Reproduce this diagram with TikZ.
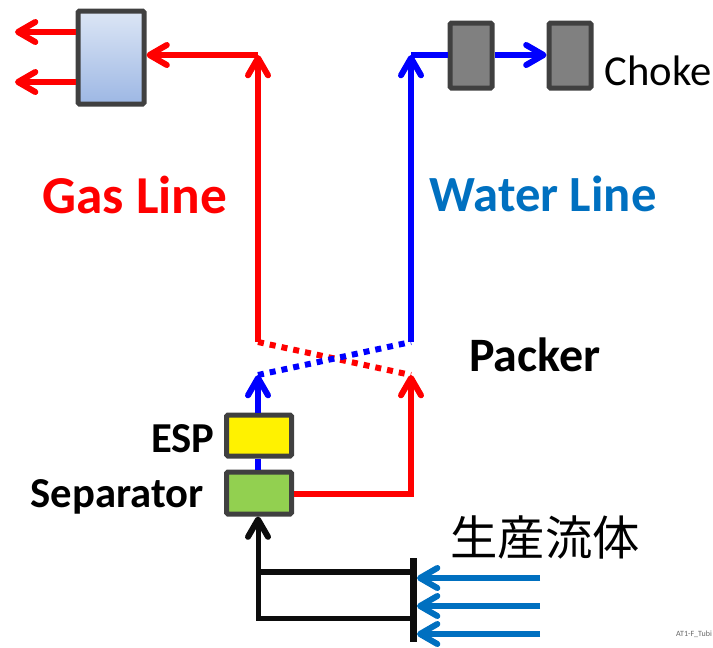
\documentclass[tikz,border=0pt]{standalone}
\usepackage{fontspec}
\setmainfont{Carlito}
\newfontfamily\cjkfont{Noto Sans CJK JP}
\usetikzlibrary{arrows.meta}
\definecolor{gasred}{RGB}{255,0,0}
\definecolor{waterblue}{RGB}{0,0,255}
\definecolor{labelblue}{RGB}{0,112,192}
\definecolor{boxedge}{RGB}{64,64,64}
\definecolor{scrubtop}{RGB}{220,230,245}
\definecolor{scrubbottom}{RGB}{157,183,228}
\definecolor{sepgreen}{RGB}{146,208,80}
\tikzset{
    flowtip/.style={-{Straight Barb[round,length=13pt,width=15pt,line width=4.5pt]}},
    equip/.style={draw=boxedge,line width=3.75pt,rounded corners=1pt,inner sep=0pt},
    chokebox/.style={equip,fill=black!50,minimum width=31.5pt,minimum height=48.75pt},
    pumpbox/.style={equip,minimum width=48.75pt,minimum height=30.75pt},
    gas/.style={gasred,line width=4.5pt},
    water/.style={waterblue,line width=4.5pt},
    feed/.style={labelblue,line width=4.5pt},
    pipe/.style={black!95,line width=3.75pt},
    packer/.style={line width=4.5pt,dash pattern=on 4.5pt off 4.5pt},
    biglabel/.style={font=\fontsize{38}{42}\selectfont\bfseries,inner sep=0pt},
    midlabel/.style={font=\fontsize{32}{36}\selectfont\bfseries,inner sep=0pt},
}
\begin{document}
\begin{tikzpicture}[x=0.75pt,y=-0.75pt]
    \useasboundingbox (0,0) rectangle (713,647);

    % equipment
    \node[equip,top color=scrubtop,bottom color=scrubbottom,minimum width=49.5pt,minimum height=69.75pt] (scrubber) at (111,57.5) {};
    \node[chokebox] (choke1) at (471,55.5) {};
    \node[chokebox] (choke2) at (570,55.5) {};
    \node[pumpbox,fill=yellow] (esp) at (259,435.5) {};
    \node[pumpbox,fill=sepgreen,minimum height=31.5pt] (separator) at (259,493) {};

    % labels
    \node[biglabel,font=\fontsize{40}{44}\selectfont\bfseries,text=gasred] (gaslabel) at (135,195) {Gas Line};
    \node[biglabel,text=labelblue] (waterlabel) at (543,194) {Water Line};
    \node[midlabel,font=\fontsize{36}{40}\selectfont\bfseries] (packerlabel) at (535,355) {Packer};
    \node[midlabel] (esplabel) at (183,439) {ESP};
    \node[midlabel] (seplabel) at (117,497) {Separator};
    \node[font=\fontsize{32}{36}\selectfont,inner sep=0pt] (chokelabel) at (658,71) {Choke};
    \node[font=\fontsize{35.5}{38}\selectfont\cjkfont,inner sep=0pt] (fluidlabel) at (545,537) {生産流体};
    \node[font=\fontsize{6}{7}\selectfont,text=black!60,inner sep=0pt] (tag) at (694,634) {AT1-F\_Tubi};

    % helper points
    \coordinate (gastop) at (258,55);
    \coordinate (watertop) at (411,55);
    \coordinate (gashigh) at (258,342);
    \coordinate (waterhigh) at (411,342);
    \coordinate (gaslow) at (411,375);
    \coordinate (waterlow) at (258,375);
    \coordinate (gascorner) at (411,494);
    \coordinate (out1) at (15,32);
    \coordinate (out2) at (15,82);
    \coordinate (manifold) at (258,618);
    \coordinate (branch) at (258,572);
    \coordinate (bartop) at (413,558);
    \coordinate (barbottom) at (413,642);

    % gas line
    \draw[gas,flowtip] (separator.east |- gascorner) -- (gascorner) -- (gaslow);
    \draw[gas,flowtip] (gashigh) -- (gastop);
    \draw[gas,flowtip] (gastop) -- (scrubber.east |- gastop);
    \draw[gas,flowtip] (scrubber.west |- out1) -- (out1);
    \draw[gas,flowtip] (scrubber.west |- out2) -- (out2);

    % water line
    \draw[water] (waterlow |- separator.north) -- (waterlow |- esp.south);
    \draw[water,flowtip] (waterlow |- esp.north) -- (waterlow);
    \draw[water,flowtip] (waterhigh) -- (watertop);
    \draw[water] (watertop) -- (choke1.west |- watertop);
    \draw[water,flowtip] (choke1.east |- watertop) -- (choke2.west |- watertop);

    % packer crossing
    \draw[packer,gasred] (gashigh) -- (gaslow);
    \draw[packer,waterblue] (waterlow) -- (waterhigh);

    % inflow
    \draw[pipe,flowtip] (manifold -| bartop) -- (manifold) -- (manifold |- separator.south);
    \draw[pipe,line width=5pt] (branch) -- (branch -| bartop);
    \draw[black!95,line width=5.25pt] (bartop) -- (barbottom);
    \foreach \y [count=\i] in {578,606,634} {
        \coordinate (feedstart\i) at (540,\y);
        \coordinate (feedend\i) at (417,\y);
        \draw[feed,flowtip] (feedstart\i) -- (feedend\i);
    }
\end{tikzpicture}
\end{document}
